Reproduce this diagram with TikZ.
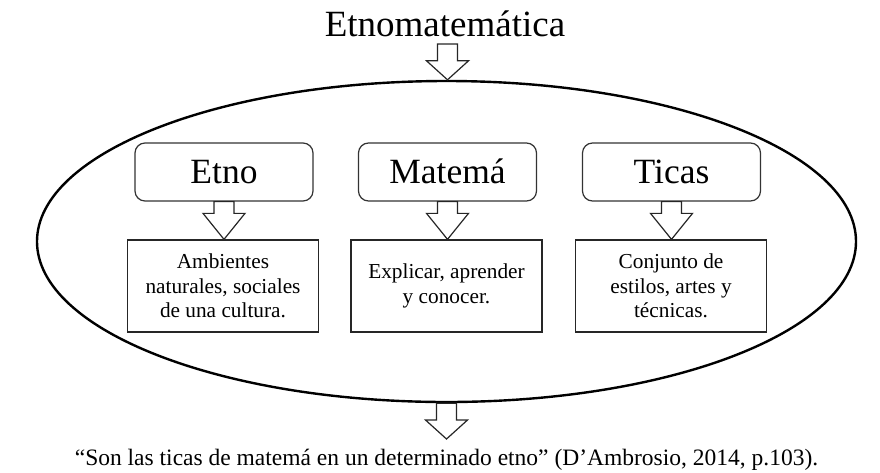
\documentclass[tikz,border=0pt]{standalone}
\usepackage{fontspec}
\setmainfont{Liberation Serif}
\usetikzlibrary{shapes.geometric,calc}
\begin{document}
\begin{tikzpicture}[x=1pt,y=-1pt,
  headbox/.style={draw=black!80, line width=1.2pt, rounded corners=10pt,
    minimum width=178pt, minimum height=58pt, inner sep=0pt,
    text height=23pt, text depth=0pt, font=\fontsize{35.5}{40}\selectfont},
  descbox/.style={draw=black!85, line width=1.3pt, minimum width=191pt,
    minimum height=92pt, inner sep=0pt, align=center,
    font=\fontsize{21.3}{24.5}\selectfont},
  blockarrow/.style={draw=black!85, fill=white, line width=1.2pt,
    to path={let \p1=(\tikztostart), \p2=(\tikztotarget) in
      (\x1-10pt,\y1) -- (\x1+10pt,\y1) -- (\x1+10pt,\y2+#1) -- (\x1+21pt,\y2+#1)
      -- (\x1,\y2) -- (\x1-21pt,\y2+#1) -- (\x1-10pt,\y2+#1) -- cycle}},
  blockarrow/.default=25pt]
\useasboundingbox (0,0) rectangle (880,472);

\node[anchor=base, inner sep=0pt, font=\fontsize{37}{40}\selectfont] (title) at (445,36) {Etnomatemática};

\node[draw, ellipse, line width=2.4pt, minimum width=819pt, minimum height=321pt, inner sep=0pt] (ell) at (446.5,241.5) {};

\node[headbox] (etno) at (224,172) {Etno};
\node[headbox] (matema) at (447.5,172) {Matemá};
\node[headbox] (ticas) at (671.5,172) {Ticas};

\node[descbox] (etnob) at (223,286) {Ambientes\\naturales, sociales\\de una cultura.};
\node[descbox] (matemab) at (446.5,286) {Explicar, aprender\\y conocer.};
\node[descbox] (ticasb) at (671,286) {Conjunto de\\estilos, artes y\\técnicas.};

\node[anchor=base, inner sep=0pt, font=\fontsize{23.5}{28}\selectfont] (quote) at (446.5,465)
  {“Son las ticas de matemá en un determinado etno” (D’Ambrosio, 2014, p.103).};

\coordinate (topstart) at (447.5,44);
\coordinate (botend) at (447.5,439);

\draw[blockarrow=19pt] (topstart) to (ell.north);
\draw[blockarrow=26pt] (etno.south) to (etnob.north);
\draw[blockarrow=26pt] (matema.south) to (matemab.north);
\draw[blockarrow=26pt] (ticas.south) to (ticasb.north);
\draw[blockarrow=19pt] (ell.south) to (botend);
\end{tikzpicture}
\end{document}
